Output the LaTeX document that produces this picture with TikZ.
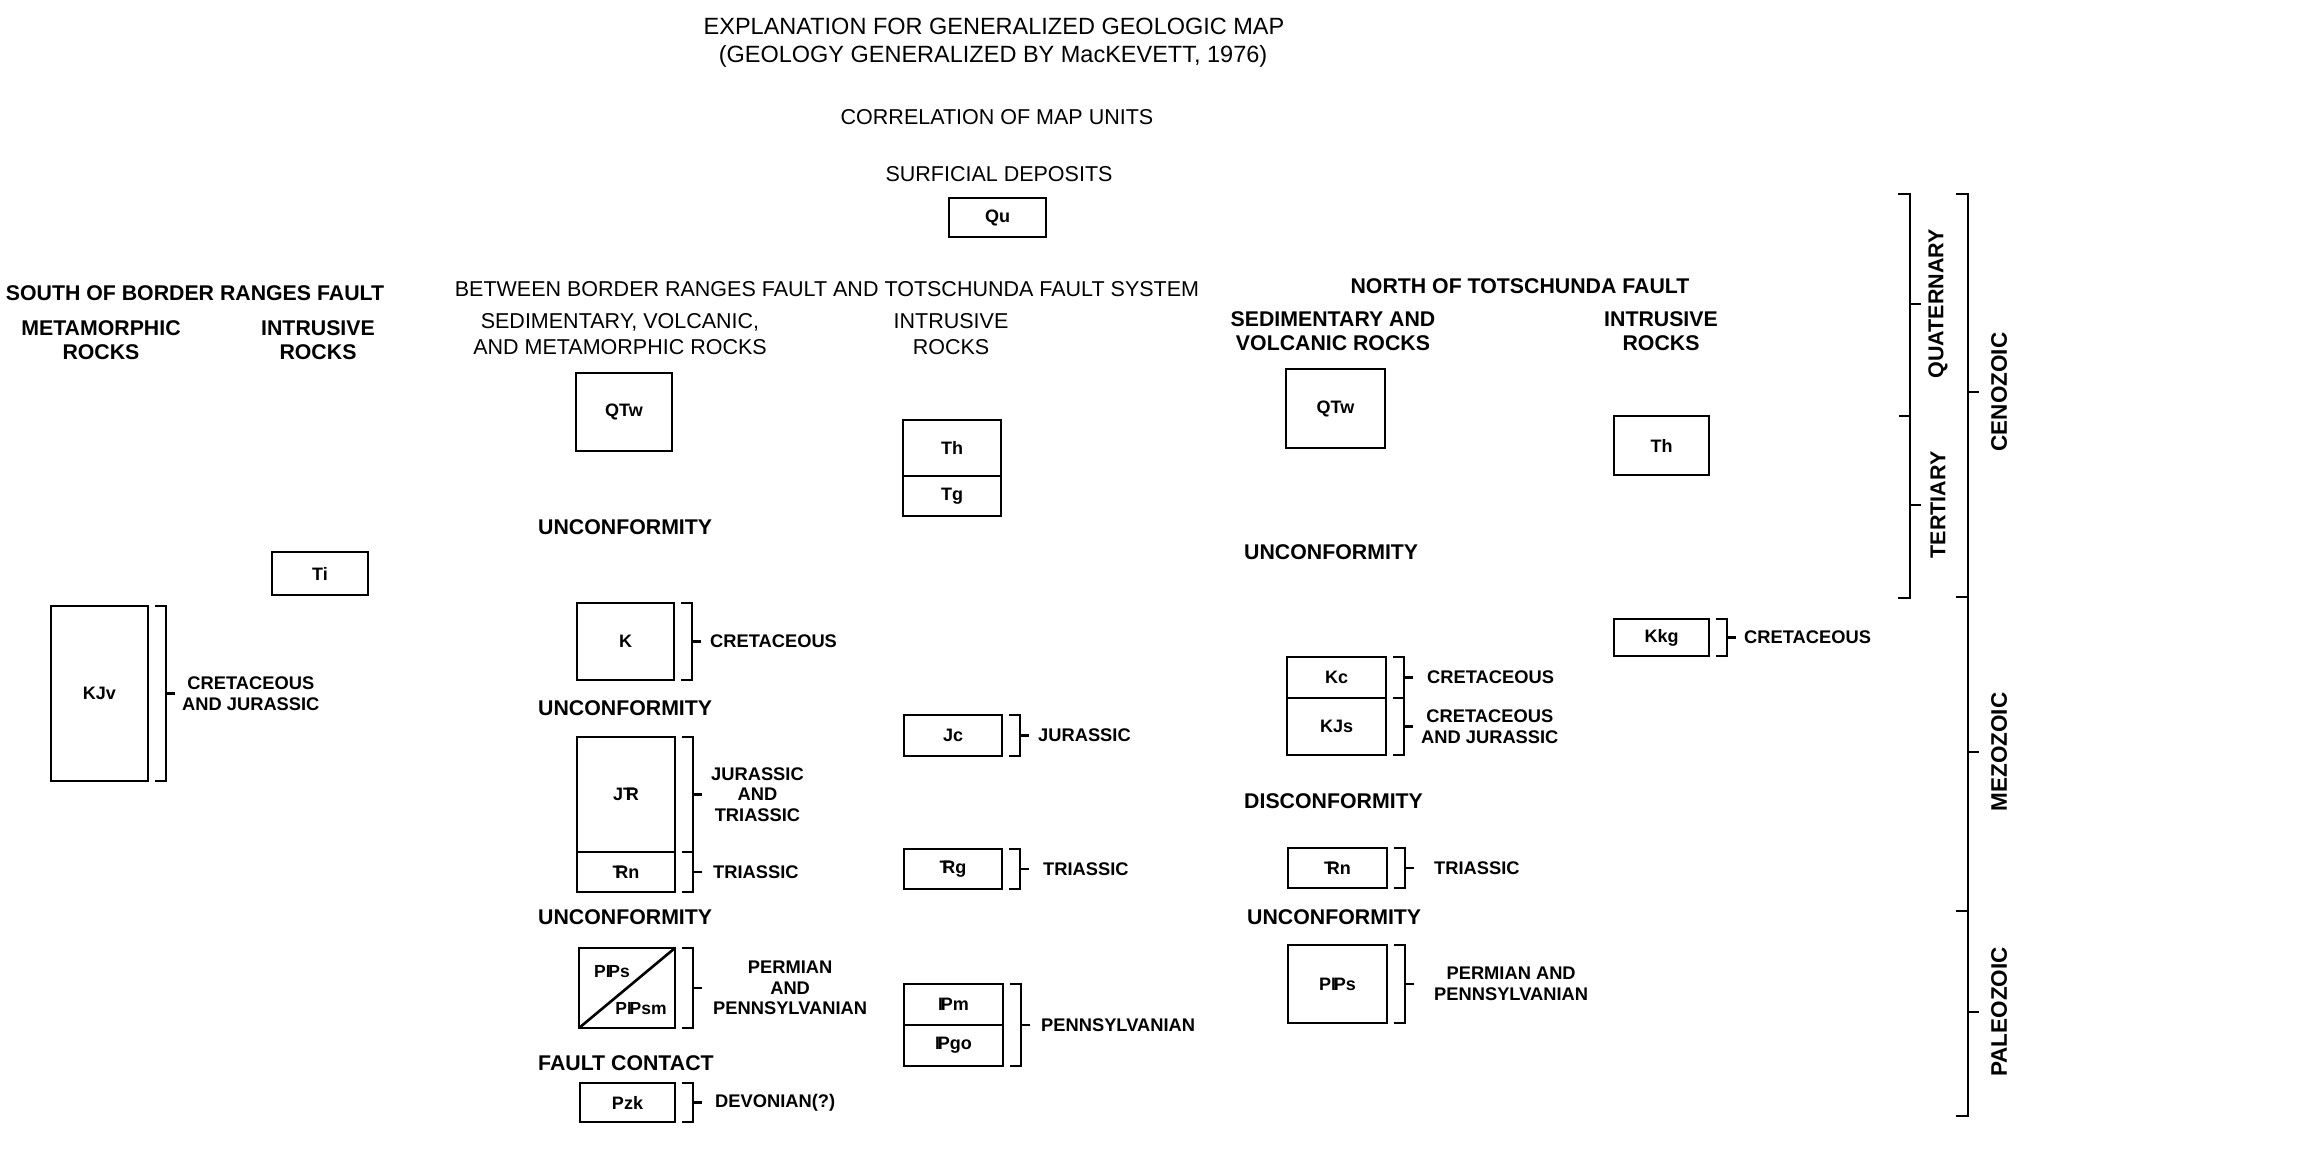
\documentclass[tikz,border=0pt]{standalone}
\usepackage{fontspec}
\setmainfont{Liberation Sans}
\usetikzlibrary{positioning,calc}
\newcommand{\Tr}{\rlap{T}\kern0.16em R}
\newcommand{\Pn}{I\kern-0.13em P}
% bracket beside one box or a stack of boxes
\newcommand{\brk}[3]{%
  \draw[brk] ([xshift=7pt]#1.north east) -- ++(11,0) |- ([xshift=7pt]#2.south east);
  \draw[brk] ($(#1.north east)!.5!(#2.south east)+(18,0)$) -- ++(9,0) coordinate (#3);}

\begin{document}
\begin{tikzpicture}[x=1pt,y=-1pt,
  unit/.style 2 args={rectangle,draw,line width=2.8pt,minimum width=#1,minimum height=#2,
    inner sep=0pt,outer sep=0pt,font=\bfseries\fontsize{18}{20}\selectfont},
  ulbl/.style={inner sep=0pt,font=\bfseries\fontsize{17.5}{20}\selectfont},
  ttl/.style={inner sep=0pt,font=\fontsize{23.5}{30}\selectfont},
  hdr/.style={inner sep=0pt,align=center,font=\fontsize{21.5}{26}\selectfont},
  hdb/.style={inner sep=0pt,align=center,font=\bfseries\fontsize{21.3}{24.5}\selectfont},
  lbl/.style={inner sep=0pt,align=center,font=\bfseries\fontsize{18.3}{20.5}\selectfont},
  era/.style={inner sep=0pt,rotate=90,font=\bfseries\fontsize{22.5}{26}\selectfont},
  per/.style={inner sep=0pt,rotate=90,font=\bfseries\fontsize{21.5}{24}\selectfont},
  brk/.style={line width=2.5pt},
  scl/.style={line width=2.8pt},
]
\useasboundingbox (0,0) rectangle (2297,1162);

% titles
\node[ttl] (title) at (994,26) {EXPLANATION FOR GENERALIZED GEOLOGIC MAP};
\node[ttl] (subtitle) at (993,56) {(GEOLOGY GENERALIZED BY MacKEVETT, 1976)};
\node[hdr] (corr) at (997,117) {CORRELATION OF MAP UNITS};
\node[hdr] (surf) at (999,174) {SURFICIAL DEPOSITS};
\node[unit={97pt}{39pt}] (qu) at (997.5,217.5) {Qu};

% south of border ranges fault
\node[hdb] (south) at (195,293) {SOUTH OF BORDER RANGES FAULT};
\node[hdb] (metaA) at (101,340) {METAMORPHIC\\ROCKS};
\node[hdb] (intrA) at (318,340) {INTRUSIVE\\ROCKS};
\node[unit={97pt}{175pt}] (kjv) at (99.5,693.5) {KJv};
\node[unit={96pt}{43pt}] (ti) at (320,573.5) {Ti};
\brk{kjv}{kjv}{tkjv}
\node[lbl,right=7pt of tkjv] (lkjv) {CRETACEOUS\\AND JURASSIC};

% between border ranges fault and totschunda fault system
\node[hdr] (between) at (827,289) {BETWEEN BORDER RANGES FAULT AND TOTSCHUNDA FAULT SYSTEM};
\node[hdr] (sedB) at (620,334) {SEDIMENTARY, VOLCANIC,\\AND METAMORPHIC ROCKS};
\node[hdr] (intrB) at (951,334) {INTRUSIVE\\ROCKS};

\node[unit={96pt}{78pt}] (qtwB) at (624,412) {QTw};
\node[hdb,anchor=west] (uncB1) at (538,527) {UNCONFORMITY};
\node[unit={97pt}{77pt}] (kB) at (625.5,641.5) {K};
\brk{kB}{kB}{tkB}
\node[lbl,right=9pt of tkB] (lkB) {CRETACEOUS};
\node[hdb,anchor=west] (uncB2) at (538,708) {UNCONFORMITY};
\node[unit={98pt}{115pt}] (jtr) at (626,794.5) {J\Tr};
\node[unit={98pt}{40pt}] (trnB) at (626,872) {\Tr n};
\brk{jtr}{jtr}{tjtr}
\node[lbl,right=9pt of tjtr] (ljtr) {JURASSIC\\AND\\TRIASSIC};
\brk{trnB}{trnB}{ttrnB}
\node[lbl,right=11pt of ttrnB] (ltrnB) {TRIASSIC};
\node[hdb,anchor=west] (uncB3) at (538,917) {UNCONFORMITY};
\node[unit={96pt}{80pt}] (pipsB) at (627,988) {};
\draw[line width=2.6pt] (pipsB.south west) -- (pipsB.north east);
\node[ulbl] (pipsBa) at (612,972) {P\Pn s};
\node[ulbl] (pipsBb) at (641,1009) {P\Pn sm};
\brk{pipsB}{pipsB}{tpipsB}
\node[lbl,right=11pt of tpipsB] (lpipsB) {PERMIAN\\AND\\PENNSYLVANIAN};
\node[hdb,anchor=west] (fault) at (538,1063) {FAULT CONTACT};
\node[unit={95pt}{39pt}] (pzk) at (627.5,1102.5) {Pzk};
\brk{pzk}{pzk}{tpzk}
\node[lbl,right=13pt of tpzk] (lpzk) {DEVONIAN(?)};

\node[unit={98pt}{56pt}] (thB) at (952,448) {Th};
\node[unit={98pt}{40pt}] (tg) at (952,496) {Tg};
\node[unit={98pt}{41pt}] (jc) at (953,735.5) {Jc};
\brk{jc}{jc}{tjc}
\node[lbl,right=9pt of tjc] (ljc) {JURASSIC};
\node[unit={98pt}{40pt}] (trg) at (953,869) {\Tr g};
\brk{trg}{trg}{ttrg}
\node[lbl,right=14pt of ttrg] (ltrg) {TRIASSIC};
\node[unit={99pt}{41pt}] (ipm) at (953.5,1004.5) {\Pn m};
\node[unit={99pt}{41pt}] (ipgo) at (953.5,1045.5) {\Pn go};
\brk{ipm}{ipgo}{tipm}
\node[lbl,right=11pt of tipm] (lipm) {PENNSYLVANIAN};

% north of totschunda fault
\node[hdb] (north) at (1520,286) {NORTH OF TOTSCHUNDA FAULT};
\node[hdb] (sedC) at (1333,331) {SEDIMENTARY AND\\VOLCANIC ROCKS};
\node[hdb] (intrC) at (1661,331) {INTRUSIVE\\ROCKS};

\node[unit={99pt}{79pt}] (qtwC) at (1335.5,408.5) {QTw};
\node[hdb,anchor=west] (uncC1) at (1244,552) {UNCONFORMITY};
\node[unit={99pt}{41pt}] (kc) at (1336.5,677.5) {Kc};
\node[unit={99pt}{57pt}] (kjs) at (1336.5,726.5) {KJs};
\brk{kc}{kc}{tkc}
\node[lbl,right=14pt of tkc] (lkc) {CRETACEOUS};
\brk{kjs}{kjs}{tkjs}
\node[lbl,right=8pt of tkjs] (lkjs) {CRETACEOUS\\AND JURASSIC};
\node[hdb,anchor=west] (disC) at (1244,801) {DISCONFORMITY};
\node[unit={99pt}{40pt}] (trnC) at (1337.5,868) {\Tr n};
\brk{trnC}{trnC}{ttrnC}
\node[lbl,right=20pt of ttrnC] (ltrnC) {TRIASSIC};
\node[hdb,anchor=west] (uncC2) at (1247,917) {UNCONFORMITY};
\node[unit={99pt}{78pt}] (pipsC) at (1337.5,984) {P\Pn s};
\brk{pipsC}{pipsC}{tpipsC}
\node[lbl,right=20pt of tpipsC] (lpipsC) {PERMIAN AND\\PENNSYLVANIAN};

\node[unit={95pt}{59pt}] (thC) at (1661.5,445.5) {Th};
\node[unit={95pt}{37pt}] (kkg) at (1661.5,637.5) {Kkg};
\brk{kkg}{kkg}{tkkg}
\node[lbl,right=8pt of tkkg] (lkkg) {CRETACEOUS};

% time scale
\draw[scl] (1898,194) -- (1910,194) -- (1910,598) -- (1898,598);
\draw[scl] (1910,304) -- ++(11,0) (1910,505) -- ++(11,0) (1910,416) -- ++(-11,0);
\draw[scl] (1956,194) -- (1968,194) -- (1968,1116) -- (1956,1116);
\draw[scl] (1968,597) -- ++(-12,0) (1968,911) -- ++(-12,0);
\draw[scl] (1968,392) -- ++(11,0) (1968,752) -- ++(11,0) (1968,1012) -- ++(11,0);
\node[per] (quat) at (1938,304) {QUATERNARY};
\node[per] (tert) at (1938,505) {TERTIARY};
\node[era] (ceno) at (1999,392) {CENOZOIC};
\node[era] (meso) at (1999,752) {MEZOZOIC};
\node[era] (paleo) at (1999,1012) {PALEOZOIC};
\end{tikzpicture}
\end{document}
